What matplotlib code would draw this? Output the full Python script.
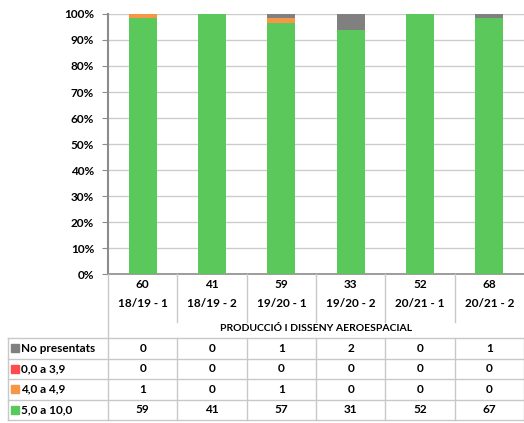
import numpy as np
import matplotlib.pyplot as plt
from matplotlib.lines import Line2D
from matplotlib.patches import Rectangle

# data
periods = ['18/19 - 1', '18/19 - 2', '19/20 - 1', '19/20 - 2', '20/21 - 1', '20/21 - 2']
totals = [60, 41, 59, 33, 52, 68]
no_presentats = [0, 0, 1, 2, 0, 1]
suspes = [0, 0, 0, 0, 0, 0]        # 0,0 a 3,9
quasi = [1, 0, 1, 0, 0, 0]         # 4,0 a 4,9
aprovat = [59, 41, 57, 31, 52, 67]  # 5,0 a 10,0
program = 'PRODUCCIÓ I DISSENY AEROESPACIAL'

series = [('5,0 a 10,0', aprovat, '#5bc85b'),
          ('4,0 a 4,9', quasi, '#f79646'),
          ('0,0 a 3,9', suspes, '#ff4b4b'),
          ('No presentats', no_presentats, '#808080')]

W, H = 524, 423
fig = plt.figure(figsize=(W / 100, H / 100), dpi=100)
plt.rcParams['font.family'] = ['Lato', 'DejaVu Sans']
FS = 8.5


def fx(x):
    return x / W


def fy(y):
    return 1 - y / H


x0, x1 = 108, 524
ytop, ybot = 14, 274
ax = fig.add_axes([fx(x0), fy(ybot), fx(x1) - fx(x0), fy(ytop) - fy(ybot)])

tot = np.array(totals, dtype=float)
xs = np.arange(len(periods))
bottom = np.zeros(len(periods))
for name, vals, col in series:
    pct = np.array(vals) / tot * 100
    ax.bar(xs, pct, width=0.4, bottom=bottom, color=col, zorder=3)
    bottom += pct

ax.set_xlim(-0.5, len(periods) - 0.5)
ax.set_ylim(0, 100)
ax.set_yticks(np.arange(0, 101, 10))
ax.set_yticklabels([f'{v}%' for v in range(0, 101, 10)], fontsize=FS, fontweight='bold')
ax.set_xticks([])
ax.grid(axis='y', color='#cccccc', linewidth=1, zorder=0)
for s in ['top', 'right']:
    ax.spines[s].set_visible(False)
ax.spines['left'].set_color('#8c8c8c')
ax.spines['left'].set_linewidth(1.5)
ax.spines['bottom'].set_color('#8c8c8c')
ax.spines['bottom'].set_linewidth(1.2)
ax.tick_params(axis='y', length=4, color='#8c8c8c', pad=6)

colw = (x1 - x0) / len(periods)


def hline(xa, xb, y, c='#c8c8c8', lw=1):
    fig.add_artist(Line2D([fx(xa), fx(xb)], [fy(y), fy(y)], color=c, lw=lw))


def vline(x, ya, yb, c='#c8c8c8', lw=1):
    fig.add_artist(Line2D([fx(x), fx(x)], [fy(ya), fy(yb)], color=c, lw=lw))


# category labels under the axis
for i, p in enumerate(periods):
    cx = x0 + colw * (i + 0.5)
    fig.text(fx(cx), fy(285), str(totals[i]), ha='center', va='center', fontsize=FS, fontweight='bold')
    fig.text(fx(cx), fy(303), p, ha='center', va='center', fontsize=FS, fontweight='bold')
for i in range(1, len(periods)):
    vline(x0 + colw * i, ybot, 322)
vline(x0, ybot, 338, c='#c8c8c8')
fig.text(fx((x0 + x1) / 2), fy(328), program, ha='center', va='center', fontsize=7.5, fontweight='bold')

# data table
rows_top = 338
rh = 20.5
tleft = 8
table_rows = list(reversed(series))
for r, (name, vals, col) in enumerate(table_rows):
    yc = rows_top + rh * (r + 0.5)
    fig.add_artist(Rectangle((fx(11), fy(yc + 4)), fx(8), fy(0) - fy(8), color=col,
                             transform=fig.transFigure))
    fig.text(fx(21), fy(yc), name, ha='left', va='center', fontsize=FS, fontweight='bold')
    for i, v in enumerate(vals):
        cx = x0 + colw * (i + 0.5)
        fig.text(fx(cx), fy(yc), str(v), ha='center', va='center', fontsize=FS, fontweight='bold')
for r in range(len(table_rows) + 1):
    hline(tleft, x1, rows_top + rh * r)
vline(tleft, rows_top, rows_top + rh * 4)
for i in range(len(periods) + 1):
    vline(min(x0 + colw * i, x1 - 0.5), rows_top, rows_top + rh * 4)

fig.savefig('out.png', dpi=100)
